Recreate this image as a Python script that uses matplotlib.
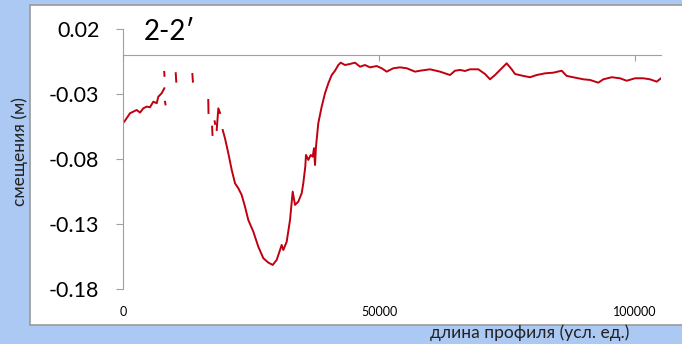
import numpy as np
import matplotlib
matplotlib.use("Agg")
import matplotlib.pyplot as plt
from matplotlib.patches import Rectangle

nan = np.nan

# profile length (arb. units) and displacement (m); NaN = gap in record
dist = [250, 1370, 2010, 2670, 3320, 3970, 4630, 5270, 5920, 6580, 6900, 7550, 8070, nan,
        8050, 8100, nan,
        8200, 8300, nan,
        10300, 10400, nan,
        13550, 13650, nan,
        16650, 16700, nan,
        17400, 17480, nan,
        17900, 18000, nan,
        18300, 18620, 18950, nan,
        19470, 19920, 20570, 21230, 21880, 22520, 23180, 23830, 24470, 25450,
        26420, 27400, 28380, 29240, 30020, 30660, 30990, 31310, 31970, 32620,
        33140, 33590, 34240, 34900, 35210, 35540, 35600, 35740, 36190, 36660,
        37050, 37300, 37500, 37690, 38140, 38800, 39450, 40100, 40760, 41400,
        42050, 42520, 43360, 44330, 45310, 46290, 47260, 48240, 49550, 50520,
        51500, 52790, 54100, 55410, 57030, 58000, 59960, 61910, 63860, 64840,
        65820, 66790, 67770, 69390, 70700, 71680, 72650, 73630, 74930, 75910,
        76560, 78180, 79490, 80790, 82420, 84040, 85680, 86650, 87940, 89900,
        91210, 92830, 93800, 95440, 97060, 98370, 100000, 101620, 102920, 104230,
        105070]
disp = [-0.0513, -0.0448, -0.0436, -0.0423, -0.0443, -0.0410, -0.0397, -0.0402, -0.0359, -0.0371, -0.0321, -0.0294, -0.0256, nan,
        -0.0130, -0.0160, nan,
        -0.0360, -0.0380, nan,
        -0.0140, -0.0205, nan,
        -0.0146, -0.0205, nan,
        -0.0346, -0.0446, nan,
        -0.0551, -0.0615, nan,
        -0.0510, -0.0530, nan,
        -0.0577, -0.0410, -0.0446, nan,
        -0.0577, -0.0641, -0.0756, -0.0884, -0.0987, -0.1025, -0.1077, -0.1167, -0.1269, -0.1359,
        -0.1474, -0.1563, -0.1597, -0.1615, -0.1576, -0.1500, -0.1461, -0.1500, -0.1436, -0.1269,
        -0.1051, -0.1153, -0.1128, -0.1063, -0.0987, -0.0884, -0.0859, -0.0769, -0.0807, -0.0769,
        -0.0782, -0.0717, -0.0846, -0.0705, -0.0525, -0.0398, -0.0294, -0.0218, -0.0154, -0.0121,
        -0.0077, -0.0059, -0.0077, -0.0069, -0.0059, -0.0090, -0.0077, -0.0095, -0.0085, -0.0102,
        -0.0128, -0.0102, -0.0095, -0.0102, -0.0128, -0.0121, -0.0110, -0.0128, -0.0154, -0.0121,
        -0.0115, -0.0123, -0.0110, -0.0110, -0.0146, -0.0187, -0.0154, -0.0115, -0.0064, -0.0110,
        -0.0146, -0.0161, -0.0171, -0.0154, -0.0141, -0.0136, -0.0121, -0.0161, -0.0171, -0.0187,
        -0.0192, -0.0213, -0.0187, -0.0171, -0.0179, -0.0198, -0.0179, -0.0179, -0.0187, -0.0205,
        -0.0179]

yticks = [0.02, -0.03, -0.08, -0.13, -0.18]
xticks = [0, 50000, 100000]

plt.rcParams['font.family'] = ['Lato', 'DejaVu Sans']

fig = plt.figure(figsize=(6.82, 3.44), dpi=100)
fig.patch.set_facecolor('#abc9f3')

# white chart panel
W, H = 682.0, 344.0
fig.patches.append(Rectangle((30 / W, 19 / H), 700 / W, 320 / H, transform=fig.transFigure,
                             facecolor='white', edgecolor='#9a9a9a', lw=1.2, zorder=-5))

ax = fig.add_axes([123 / W, 55 / H, 538 / W, 260 / H])
ax.set_facecolor('none')
ax.plot(dist, disp, color='#c00010', lw=1.4)

ax.set_xlim(0, 105070)
ax.set_ylim(-0.18, 0.02)

ax.spines['top'].set_visible(False)
ax.spines['right'].set_visible(False)
ax.spines['left'].set_color('#a0a0a0')
ax.spines['bottom'].set_color('#a0a0a0')
ax.spines['bottom'].set_position(('data', 0))

ax.set_yticks(yticks)
ax.set_yticklabels(['%.2f' % v for v in yticks])
ax.tick_params(axis='y', direction='out', length=5, color='#a0a0a0', pad=12, labelsize=15.5)

ax.set_xticks(xticks)
ax.tick_params(axis='x', direction='out', length=4, color='#a0a0a0', labelbottom=False)

sec = ax.secondary_xaxis(0)
sec.set_xticks(xticks)
sec.set_xticklabels([str(v) for v in xticks])
sec.spines['bottom'].set_visible(False)
sec.tick_params(axis='x', length=0, pad=12, labelsize=9)

fig.text(144 / W, 1 - 32 / H, '2-2\u2032', fontsize=20, va='center', ha='left')
fig.text(20 / W, 1 - 152 / H, 'смещения (м)', rotation=90, fontsize=12.5, va='center', ha='center',
         color='#222222')
fig.text(530 / W, 1 - 333 / H, 'длина профиля (усл. ед.)', fontsize=12.5, va='center', ha='center',
         color='#222222')

fig.savefig('out.png', dpi=100, facecolor=fig.get_facecolor())
